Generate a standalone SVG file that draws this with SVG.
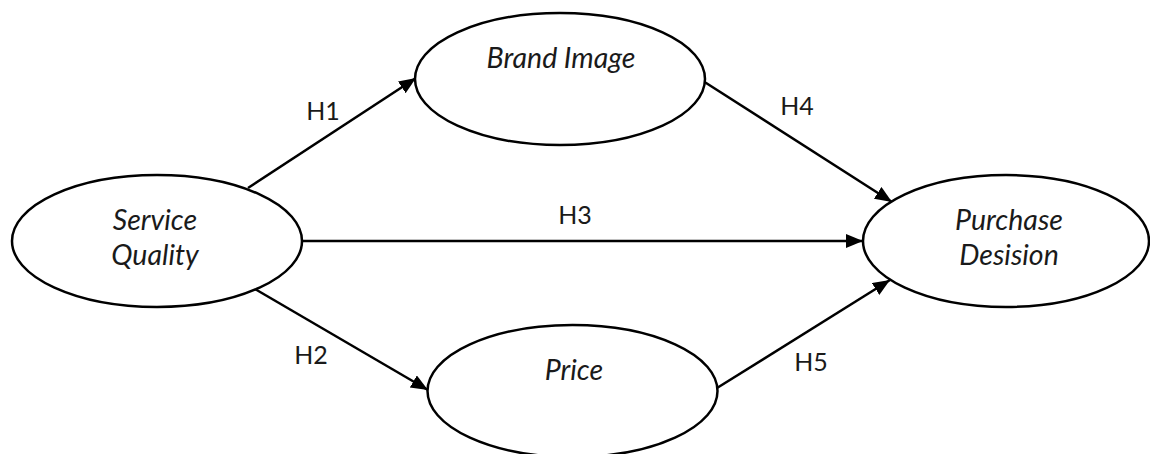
<svg xmlns="http://www.w3.org/2000/svg" width="1150" height="454" viewBox="0 0 1150 454">
<style>
.node ellipse{fill:#fff;stroke:#000;stroke-width:2.5}
.nt{font-family:Lato,"Liberation Sans",sans-serif;font-style:italic;font-size:28.5px;fill:#1a1a1a;text-anchor:middle}
.lb{font-family:Lato,"Liberation Sans",sans-serif;font-size:25px;fill:#1a1a1a;text-anchor:middle}
#connectors line{stroke:#000;stroke-width:2.5;marker-end:url(#ah)}
</style>
<defs>
<marker id="ah" markerUnits="userSpaceOnUse" markerWidth="20" markerHeight="16" refX="17" refY="7" orient="auto">
<path d="M0,0 L17,7 L0,14 Z" fill="#000"/>
</marker>
</defs>
<rect width="1150" height="454" fill="#fff"/>
<g id="connectors">
<line x1="248" y1="188" x2="416" y2="78"/>
<line x1="301" y1="241" x2="863" y2="241"/>
<line x1="255" y1="289" x2="428" y2="390"/>
<line x1="703" y1="81" x2="892" y2="202"/>
<line x1="717" y1="388" x2="890" y2="280"/>
<text class="lb" x="323" y="120">H1</text>
<text class="lb" x="311" y="364">H2</text>
<text class="lb" x="575" y="224">H3</text>
<text class="lb" x="797" y="115">H4</text>
<text class="lb" x="811" y="371">H5</text>
</g>
<g id="service-quality" class="node">
<ellipse cx="157" cy="241" rx="145" ry="66"/>
<text class="nt" x="155" y="230">Service</text>
<text class="nt" x="155" y="265">Quality</text>
</g>
<g id="brand-image" class="node">
<ellipse cx="560" cy="79" rx="145" ry="66"/>
<text class="nt" x="561" y="68">Brand Image</text>
</g>
<g id="price" class="node">
<ellipse cx="572.5" cy="391" rx="145" ry="66"/>
<text class="nt" x="574" y="380">Price</text>
</g>
<g id="purchase-desision" class="node">
<ellipse cx="1006" cy="241" rx="143" ry="66"/>
<text class="nt" x="1009" y="230">Purchase</text>
<text class="nt" x="1009" y="265">Desision</text>
</g>
</svg>
